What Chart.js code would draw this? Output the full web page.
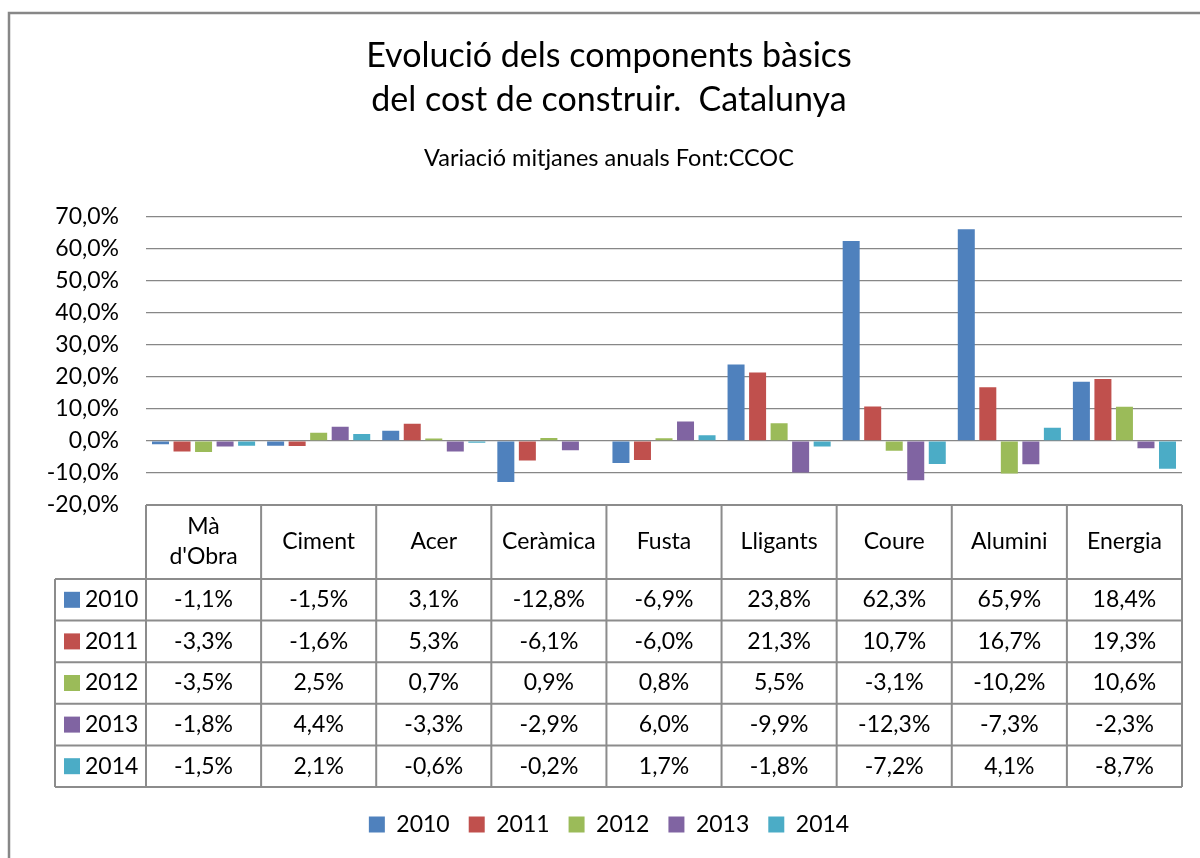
<!DOCTYPE html>
<html>
<head>
<meta charset="utf-8">
<script src="https://cdn.jsdelivr.net/npm/chart.js@4.4.1/dist/chart.umd.min.js"></script>
<style>
  html, body { margin: 0; padding: 0; background: #fff; }
</style>
</head>
<body>
<canvas id="chart" width="1200" height="858"></canvas>
<script>
// data (percent)
const categories = [['Mà', "d'Obra"], 'Ciment', 'Acer', 'Ceràmica', 'Fusta', 'Lligants', 'Coure', 'Alumini', 'Energia'];
const years = ['2010', '2011', '2012', '2013', '2014'];
const v2010 = [-1.1, -1.5, 3.1, -12.8, -6.9, 23.8, 62.3, 65.9, 18.4];
const v2011 = [-3.3, -1.6, 5.3, -6.1, -6.0, 21.3, 10.7, 16.7, 19.3];
const v2012 = [-3.5, 2.5, 0.7, 0.9, 0.8, 5.5, -3.1, -10.2, 10.6];
const v2013 = [-1.8, 4.4, -3.3, -2.9, 6.0, -9.9, -12.3, -7.3, -2.3];
const v2014 = [-1.5, 2.1, -0.6, -0.2, 1.7, -1.8, -7.2, 4.1, -8.7];
const yMin = -20, yMax = 70, yStep = 10;

const series = [v2010, v2011, v2012, v2013, v2014];
const colors = ['#4F81BD', '#C0504D', '#9BBB59', '#8064A2', '#4BACC6'];
const FONT = 'Lato, "Noto Sans", sans-serif';
const TXT = 23;

const pct = v => v.toFixed(1).replace('.', ',') + '%';

// outer frame + white background
const framePlugin = {
  id: 'frame',
  beforeDraw(chart) {
    const ctx = chart.ctx;
    ctx.save();
    ctx.fillStyle = '#fff';
    ctx.fillRect(0, 0, chart.width, chart.height);
    ctx.strokeStyle = '#878787';
    ctx.lineWidth = 2.5;
    ctx.strokeRect(9, 13, chart.width + 20, chart.height + 20);
    ctx.restore();
  }
};

// data table under the plot, columns follow the x scale
const tablePlugin = {
  id: 'dataTable',
  afterDraw(chart) {
    const { ctx, chartArea: a, scales: { x } } = chart;
    const colW = (a.right - a.left) / categories.length;
    const headTop = a.bottom;
    const headBot = headTop + 74;
    const rowH = 41.6;
    const leftX = 55;
    const tableBot = headBot + rowH * years.length;

    ctx.save();
    ctx.strokeStyle = '#8c8c8c';
    ctx.lineWidth = 2;
    ctx.beginPath();
    ctx.moveTo(a.left, headTop); ctx.lineTo(a.right, headTop);
    for (let r = 0; r <= years.length; r++) {
      const y = headBot + r * rowH;
      ctx.moveTo(leftX, y); ctx.lineTo(a.right, y);
    }
    for (let c = 0; c <= categories.length; c++) {
      const xx = a.left + c * colW;
      ctx.moveTo(xx, headTop); ctx.lineTo(xx, tableBot);
    }
    ctx.moveTo(leftX, headBot); ctx.lineTo(leftX, tableBot);
    ctx.stroke();

    ctx.fillStyle = '#000';
    ctx.font = TXT + 'px ' + FONT;
    ctx.textAlign = 'center';
    ctx.textBaseline = 'middle';
    categories.forEach((cat, i) => {
      const cx = x.getPixelForValue(i);
      const lines = Array.isArray(cat) ? cat : [cat];
      const mid = (headTop + headBot) / 2;
      lines.forEach((ln, k) => {
        ctx.fillText(ln, cx, mid + (k - (lines.length - 1) / 2) * 30);
      });
    });
    years.forEach((yr, r) => {
      const cy = headBot + r * rowH + rowH / 2;
      ctx.fillStyle = colors[r];
      ctx.fillRect(64, cy - 8, 16, 16);
      ctx.fillStyle = '#000';
      ctx.textAlign = 'left';
      ctx.fillText(yr, 85, cy);
      ctx.textAlign = 'center';
      series[r].forEach((v, i) => {
        ctx.fillText(pct(v), x.getPixelForValue(i), cy);
      });
    });
    ctx.restore();
  }
};

new Chart(document.getElementById('chart'), {
  type: 'bar',
  data: {
    labels: categories,
    datasets: years.map((yr, i) => ({
      label: yr,
      data: series[i],
      backgroundColor: colors[i],
      borderWidth: 0,
      categoryPercentage: 0.935,
      barPercentage: 0.79
    }))
  },
  options: {
    responsive: false,
    animation: false,
    layout: { padding: { top: 0, right: 18, bottom: 12, left: 36 } },
    plugins: {
      title: {
        display: true,
        text: ['Evolució dels components bàsics', 'del cost de construir.  Catalunya'],
        color: '#000',
        font: { family: FONT, size: 34, weight: 'normal', lineHeight: 1.294 },
        padding: { top: 34, bottom: 0 }
      },
      subtitle: {
        display: true,
        text: 'Variació mitjanes anuals Font:CCOC',
        color: '#000',
        font: { family: FONT, size: 23.5, weight: 'normal', lineHeight: 1.2 },
        padding: { top: 22, bottom: 44 }
      },
      legend: {
        position: 'bottom',
        labels: {
          color: '#000',
          font: { family: FONT, size: TXT },
          boxWidth: 16,
          boxHeight: 16,
          padding: 19
        }
      },
      tooltip: { enabled: false }
    },
    scales: {
      x: {
        grid: { display: false },
        border: { display: false },
        ticks: { display: false },
        afterFit: s => { s.height = 289; }
      },
      y: {
        min: yMin,
        max: yMax,
        grid: { color: '#878787', lineWidth: 1.3, drawTicks: false },
        border: { display: false },
        ticks: {
          stepSize: yStep,
          padding: 27,
          color: '#000',
          font: { family: FONT, size: TXT },
          callback: v => pct(v)
        },
        afterFit: s => { s.width = 110; }
      }
    }
  },
  plugins: [framePlugin, tablePlugin]
});
</script>
</body>
</html>
